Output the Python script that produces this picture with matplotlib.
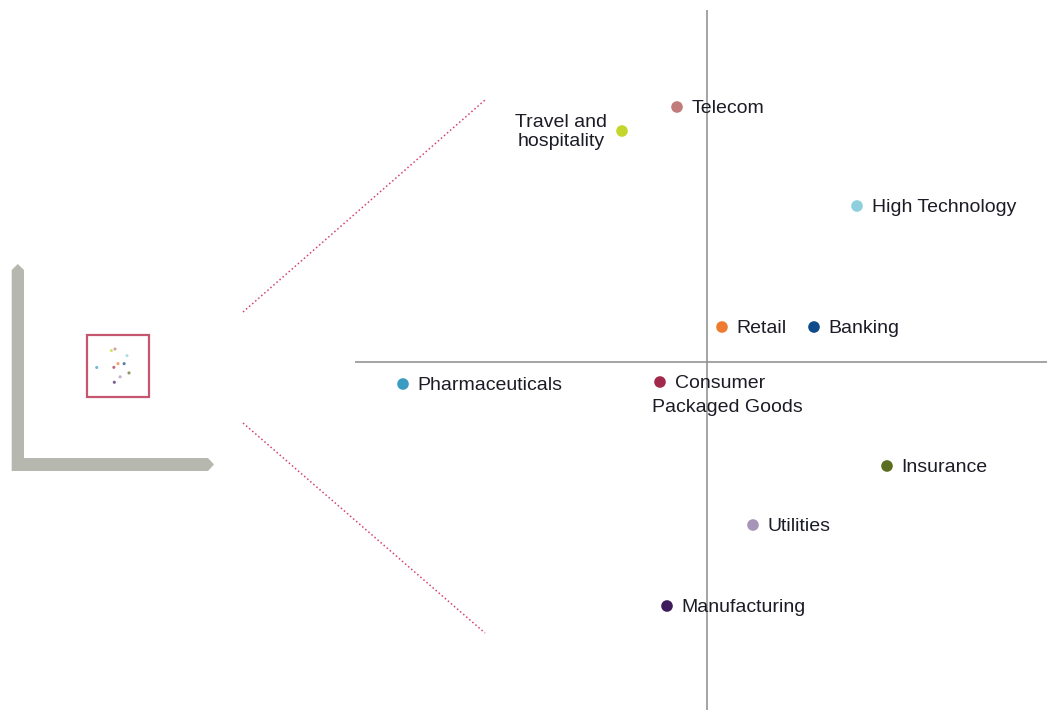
import matplotlib
matplotlib.use("Agg")
import matplotlib.pyplot as plt
from matplotlib.patches import Polygon, Rectangle

plt.rcParams['font.family'] = ['Liberation Sans Narrow', 'Liberation Sans', 'DejaVu Sans']

# industries, position relative to the centre of the map
industrias = ["Telecom", "Travel and\nhospitality", "High Technology", "Retail", "Banking",
              "Pharmaceuticals", "Consumer\nPackaged Goods", "Insurance", "Utilities",
              "Manufacturing"]
x_vals = [-3.0, -8.5, 15.0, 1.5, 10.7, -30.4, -4.7, 18.0, 4.6, -4.0]
y_vals = [25.5, 23.1, 15.6, 3.5, 3.5, -2.2, -2.0, -10.4, -16.3, -24.4]
colores = ["#c27b7b", "#c4d62c", "#8dcfdd", "#ee7b2f", "#0f4a8b",
           "#3b9bc1", "#a2294b", "#5b6e1f", "#a694b9", "#3e1b5b"]

W, H = 1047, 711
fig = plt.figure(figsize=(W / 100, H / 100), dpi=100)

# capa de decoracion en pixeles
deco = fig.add_axes([0, 0, 1, 1])
deco.set_xlim(0, W)
deco.set_ylim(H, 0)
deco.axis("off")

# eje gris en forma de L
forma_l = [(11.7, 270), (17.8, 264), (24, 270), (24, 458), (208, 458),
           (214, 464.5), (208, 471), (11.7, 471)]
deco.add_patch(Polygon(forma_l, closed=True, color="#b6b7af", lw=0))

# cuadro rojo y lineas punteadas
deco.add_patch(Rectangle((87, 335), 62, 62, fill=False, ec="#c4566f", lw=1.6))
deco.plot([243, 485], [312, 100], ls=":", color="#d2446a", lw=1.1)
deco.plot([243, 485], [423, 633], ls=":", color="#d2446a", lw=1.1)

# mapa pequeno
mini = fig.add_axes([88 / W, 1 - 396 / H, 60 / W, 60 / H])
mini.set_xlim(-43.5, 46.5)
mini.set_ylim(-45, 45)
mini.axis("off")
mini.scatter(x_vals, y_vals, s=5, c=colores, lw=0, alpha=0.7)

# mapa grande
ax = fig.add_axes([355 / W, 1 / H, 692 / W, 700 / H])
ax.set_xlim(-35.2, 34.0)
ax.set_ylim(-34.8, 35.2)
ax.axis("off")
ax.axvline(0, color="#8c8c8c", lw=1.1, zorder=1)
ax.axhline(0, color="#8c8c8c", lw=1.1, zorder=1)
ax.scatter(x_vals, y_vals, s=70, c=colores, lw=0, zorder=3)

color_txt = "#1c1c26"
fs = 14
for nombre, x, y in zip(industrias, x_vals, y_vals):
    if nombre.startswith("Travel"):
        ax.annotate(nombre, (x, y), xytext=(-11, -1), textcoords="offset points",
                    ha="right", va="center", ma="center", fontsize=fs,
                    color=color_txt, linespacing=1.15, zorder=4)
    elif nombre.startswith("Consumer"):
        primera, segunda = nombre.split("\n")
        ax.annotate(primera, (x, y), xytext=(10.5, -1), textcoords="offset points",
                    ha="left", va="center", fontsize=fs, color=color_txt, zorder=4)
        ax.annotate(segunda, (x, y), xytext=(-6, -18), textcoords="offset points",
                    ha="left", va="center", fontsize=fs, color=color_txt, zorder=4)
    else:
        ax.annotate(nombre, (x, y), xytext=(10.5, -1.2), textcoords="offset points",
                    ha="left", va="center", fontsize=fs, color=color_txt, zorder=4)

fig.savefig("out.png", dpi=100)
